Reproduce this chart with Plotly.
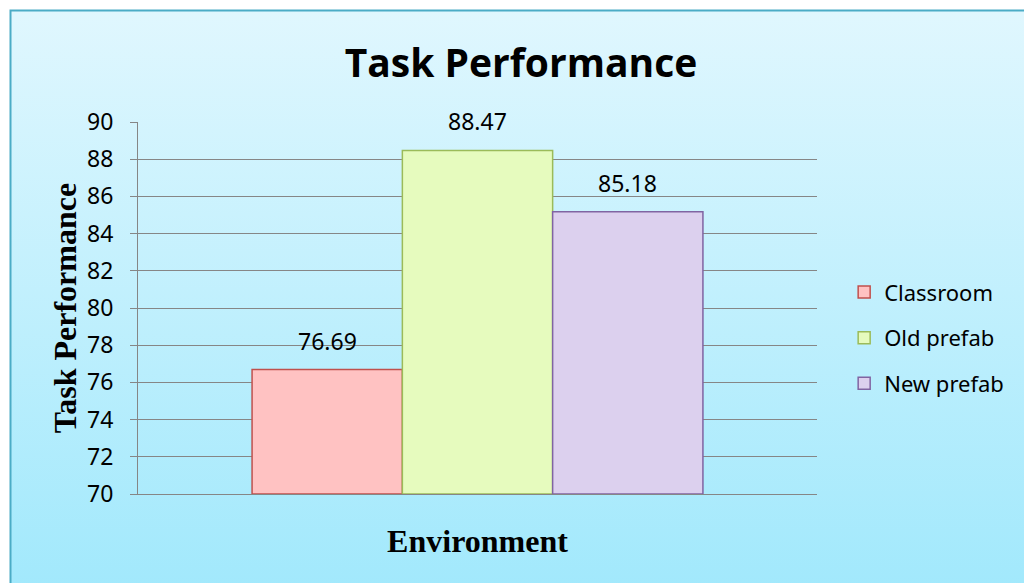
import base64
import plotly.graph_objects as go

# data
environments = ["Classroom", "Old prefab", "New prefab"]
task_perf = [76.69, 88.47, 85.18]
bar_fill = ["#FFC2C2", "#E6FBBE", "#DCD0EE"]
bar_edge = ["#C0504D", "#9BBB59", "#8064A2"]
category = ["Environment"]
y_ticks = [70, 72, 74, 76, 78, 80, 82, 84, 86, 88, 90]

W, H = 1024, 583
L, R, T, B = 138, 207, 122, 89
pw, ph = W - L - R, H - T - B
bargap = 0.336

# light blue gradient background with the box outline, as an svg image
svg = f'''<svg xmlns="http://www.w3.org/2000/svg" width="{W}" height="{H}">
<defs><linearGradient id="g" x1="0" y1="0" x2="0" y2="1">
<stop offset="0" stop-color="#E0F7FE"/><stop offset="1" stop-color="#9FE8FC"/>
</linearGradient></defs>
<rect x="0" y="0" width="{W}" height="{H}" fill="#ffffff"/>
<rect x="10.5" y="10.5" width="{W + 20}" height="{H + 20}" fill="url(#g)" stroke="#4BACC6" stroke-width="2"/>
</svg>'''
bg_src = "data:image/svg+xml;base64," + base64.b64encode(svg.encode()).decode()

fig = go.Figure()
for i, name in enumerate(environments):
    fig.add_trace(go.Bar(
        x=category, y=[task_perf[i] - 70], base=70, name=name,
        legendgroup=name,
        marker=dict(color=bar_fill[i], line=dict(color=bar_edge[i], width=1.5)),
        hoverinfo="skip",
    ))

# value labels above each bar
n = len(environments)
w = (1 - bargap) / n
for i, v in enumerate(task_perf):
    fig.add_annotation(
        x=(i - (n - 1) / 2) * w, y=v, xref="x", yref="y",
        text=f"{v:.2f}", showarrow=False, yshift=29,
        font=dict(family="Noto Sans", size=23, color="#000000"),
    )

fig.add_layout_image(
    source=bg_src, xref="paper", yref="paper",
    x=-L / pw, y=1 + T / ph, sizex=W / pw, sizey=H / ph,
    xanchor="left", yanchor="top", sizing="stretch", layer="below",
)

fig.update_layout(
    width=W, height=H,
    margin=dict(l=L, r=R, t=T, b=B),
    paper_bgcolor="#C6EFFC", plot_bgcolor="#ffffff",
    barmode="group", bargap=bargap, bargroupgap=0,
    title=dict(text="<b>Task Performance</b>", x=521 / W, xanchor="center",
               y=1 - 63 / H, yanchor="middle",
               font=dict(family="Open Sans", size=39, color="#000000")),
    legend=dict(x=1.040, xanchor="left", y=0.42, yanchor="middle",
                bgcolor="rgba(0,0,0,0)", tracegroupgap=14,
                font=dict(family="Noto Sans", size=22, color="#000000")),
    showlegend=True,
)
fig.update_xaxes(
    showline=True, linecolor="#868686", linewidth=1,
    showticklabels=False, ticks="",
    title=dict(text="<b>Environment</b>", standoff=35,
               font=dict(family="Liberation Serif", size=32, color="#000000")),
)
fig.update_yaxes(
    range=[70, 90], tickvals=y_ticks, showgrid=True, gridcolor="#868686",
    zeroline=False, showline=True, linecolor="#868686", linewidth=1,
    ticks="outside", ticklen=7, tickcolor="#868686", ticklabelstandoff=12,
    tickfont=dict(family="Noto Sans", size=23, color="#000000"),
    title=dict(text="<b>Task Performance</b>", standoff=0,
               font=dict(family="Liberation Serif", size=32, color="#000000")),
)

# drop the default body margin so the figure fills the window
fig.write_html("out.html", config={"displayModeBar": False},
               post_script="document.body.style.margin='0';")
